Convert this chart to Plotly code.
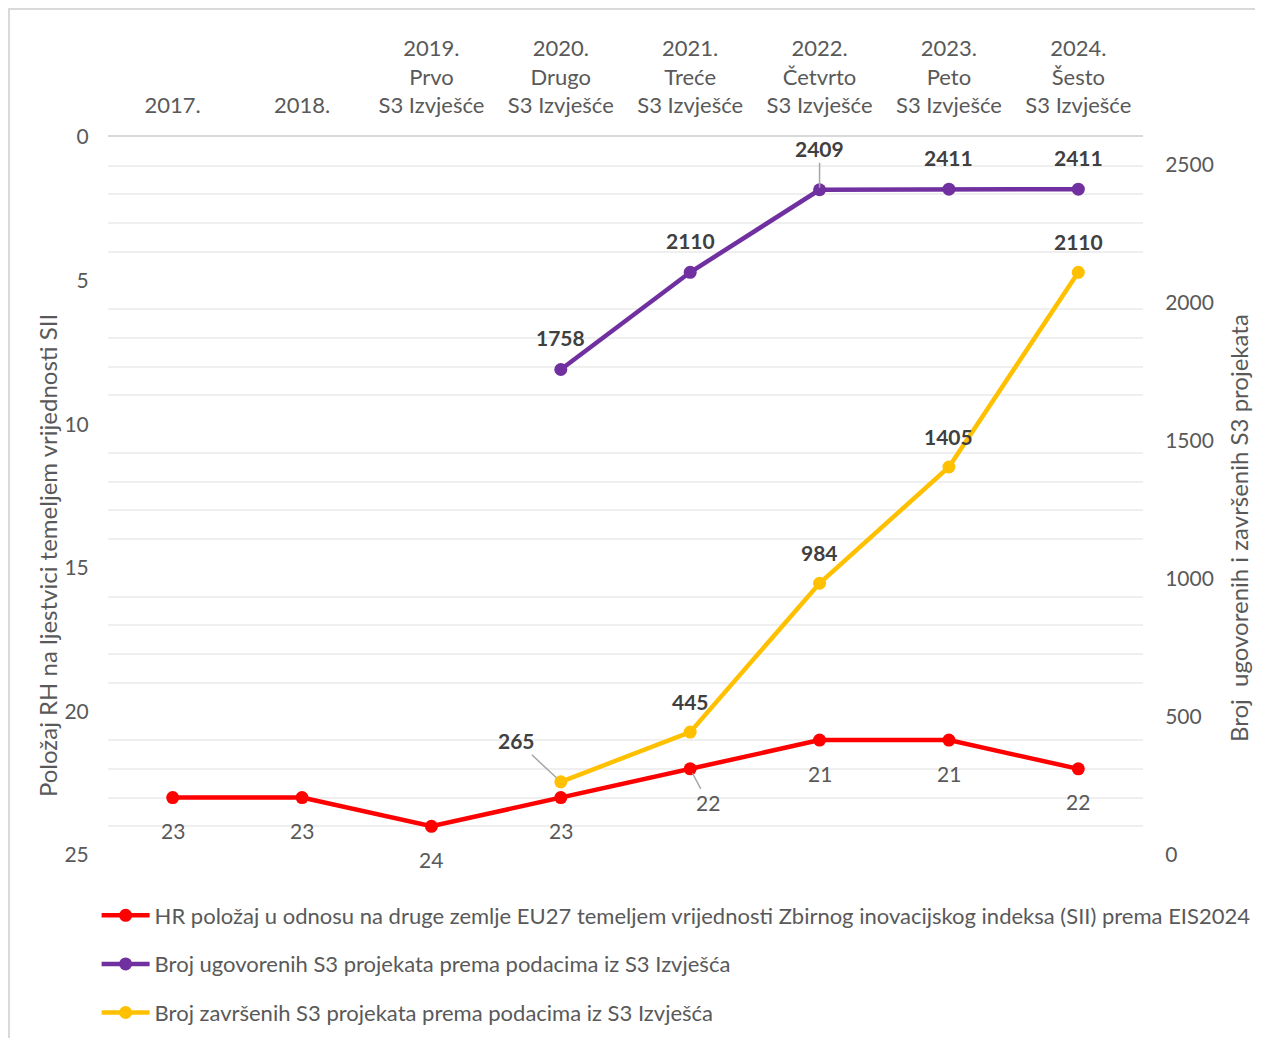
import plotly.graph_objects as go

categories = ["2017.", "2018.", "2019.<br>Prvo<br>S3 Izvješće", "2020.<br>Drugo<br>S3 Izvješće",
              "2021.<br>Treće<br>S3 Izvješće", "2022.<br>Četvrto<br>S3 Izvješće",
              "2023.<br>Peto<br>S3 Izvješće", "2024.<br>Šesto<br>S3 Izvješće"]
hr_rank = [23, 23, 24, 23, 22, 21, 21, 22]
contracted = [None, None, None, 1758, 2110, 2409, 2411, 2411]
completed = [None, None, None, 265, 445, 984, 1405, 2110]

name_red = "HR položaj u odnosu na druge zemlje EU27 temeljem vrijednosti Zbirnog inovacijskog indeksa (SII) prema EIS2024"
name_purple = "Broj ugovorenih S3 projekata prema podacima iz S3 Izvješća"
name_yellow = "Broj završenih S3 projekata prema podacima iz S3 Izvješća"
title_left = "Položaj RH na ljestvici temeljem vrijednosti SII"
title_right = "Broj  ugovorenih i završenih S3 projekata"

RED = "#FF0000"
PURPLE = "#7030A0"
YELLOW = "#FFC000"
FONT = "Lato"
GREY = "#595959"
DARK = "#404040"

fig = go.Figure()
fig.add_trace(go.Scatter(x=categories, y=hr_rank, name=name_red, mode="lines+markers",
                         line=dict(color=RED, width=4.5), marker=dict(size=13, color=RED),
                         yaxis="y", legendgroup="a"))
fig.add_trace(go.Scatter(x=categories, y=contracted, name=name_purple, mode="lines+markers",
                         line=dict(color=PURPLE, width=4.5), marker=dict(size=13, color=PURPLE),
                         yaxis="y2", legendgroup="b"))
fig.add_trace(go.Scatter(x=categories, y=completed, name=name_yellow, mode="lines+markers",
                         line=dict(color=YELLOW, width=4.5), marker=dict(size=13, color=YELLOW),
                         yaxis="y2", legendgroup="c"))

annotations = []
# red labels (below points); x given as category index
for i, v in enumerate(hr_rank):
    if i == 4:
        annotations.append(dict(x=i, y=v, xref="x", yref="y", text=str(v), showarrow=True,
                                ax=18, ay=34, arrowhead=0, arrowwidth=1.5, arrowcolor="#a6a6a6",
                                standoff=5, font=dict(family=FONT, size=21, color=GREY)))
    else:
        annotations.append(dict(x=i, y=v, xref="x", yref="y", text=str(v), showarrow=False,
                                yshift=-33, font=dict(family=FONT, size=21, color=GREY)))
# purple labels (above)
for i, v in enumerate(contracted):
    if v is None:
        continue
    if i == 5:
        annotations.append(dict(x=i, y=v, xref="x", yref="y2", text="<b>%d</b>" % v, showarrow=True,
                                ax=0, ay=-41, arrowhead=0, arrowwidth=1.5, arrowcolor="#a6a6a6",
                                standoff=2, font=dict(family=FONT, size=21, color=DARK)))
    else:
        annotations.append(dict(x=i, y=v, xref="x", yref="y2", text="<b>%d</b>" % v, showarrow=False,
                                yshift=32, font=dict(family=FONT, size=21, color=DARK)))
# yellow labels (above)
for i, v in enumerate(completed):
    if v is None:
        continue
    if i == 3:
        annotations.append(dict(x=i, y=v, xref="x", yref="y2", text="<b>%d</b>" % v, showarrow=True,
                                ax=-44, ay=-41, arrowhead=0, arrowwidth=1.5, arrowcolor="#a6a6a6",
                                standoff=6, font=dict(family=FONT, size=21, color=DARK)))
    else:
        annotations.append(dict(x=i, y=v, xref="x", yref="y2", text="<b>%d</b>" % v, showarrow=False,
                                yshift=31, font=dict(family=FONT, size=21, color=DARK)))

# axis titles (placed as rotated annotations, as in the original they sit below axis centre)
annotations.append(dict(x=-0.0589, y=0.4164, xref="paper", yref="paper", text=title_left,
                        textangle=-90, showarrow=False, xanchor="center", yanchor="middle",
                        font=dict(family=FONT, size=24, color=GREY)))
annotations.append(dict(x=1.0918, y=0.4554, xref="paper", yref="paper", text=title_right,
                        textangle=-90, showarrow=False, xanchor="center", yanchor="middle",
                        font=dict(family=FONT, size=24, color=GREY)))

fig.update_layout(
    width=1263, height=1038,
    margin=dict(l=100, r=128, t=129, b=191),
    paper_bgcolor="white", plot_bgcolor="white",
    font=dict(family=FONT, size=21, color=GREY),
    xaxis=dict(type="category", side="top", range=[-0.5, 7.5], showgrid=False,
               showline=True, linecolor="#d9d9d9", linewidth=2, zeroline=False,
               ticks="outside", ticklen=13, tickcolor="rgba(0,0,0,0)",
               tickfont=dict(family=FONT, size=22, color=GREY)),
    yaxis=dict(range=[25, 0], dtick=5, tick0=0, showgrid=False, zeroline=False,
               ticks="outside", ticklen=14, tickcolor="rgba(0,0,0,0)",
               minor=dict(dtick=1, showgrid=True, gridcolor="#efefef", gridwidth=2),
               tickfont=dict(family=FONT, size=21, color=GREY)),
    yaxis2=dict(range=[0, 2600], dtick=500, overlaying="y", side="right", showgrid=False,
                zeroline=False, ticks="outside", ticklen=17, tickcolor="rgba(0,0,0,0)",
                tickfont=dict(family=FONT, size=21, color=GREY)),
    legend=dict(orientation="v", x=-0.011, y=-0.055, xanchor="left", yanchor="top",
                font=dict(family=FONT, size=22, color=GREY), tracegroupgap=17,
                traceorder="grouped", itemwidth=48),
    annotations=annotations,
    shapes=[dict(type="rect", xref="paper", yref="paper", x0=-0.0956, x1=1.3, y0=-0.5, y1=1.1783,
                 line=dict(color="#d9d9d9", width=2), fillcolor="rgba(0,0,0,0)", layer="below")],
    showlegend=True,
)

fig.write_html("out.html")
